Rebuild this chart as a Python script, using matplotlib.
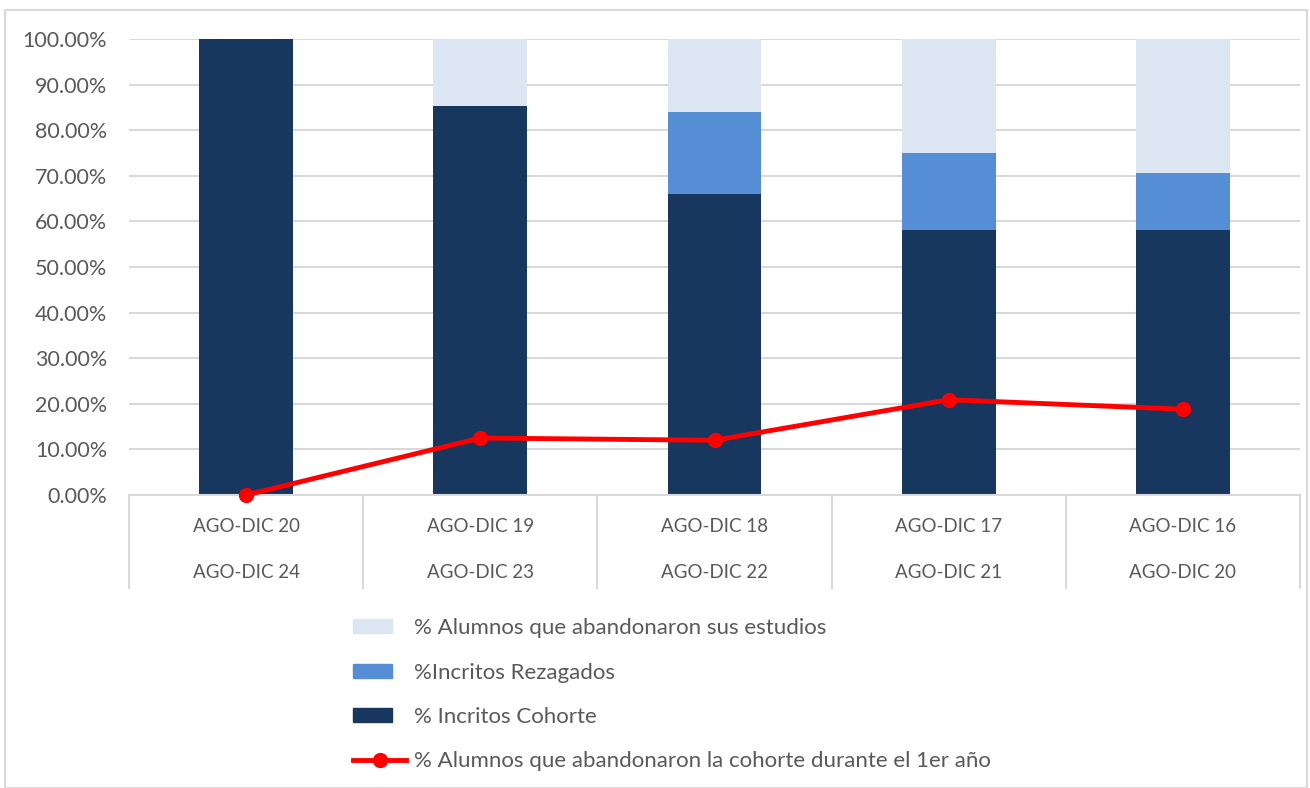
import matplotlib.pyplot as plt
from matplotlib.lines import Line2D
from matplotlib.patches import Patch, Rectangle
from matplotlib.legend_handler import HandlerPatch
import numpy as np

plt.rcParams['font.family'] = ['Lato', 'DejaVu Sans']

periodo_inicio = ['AGO-DIC 20', 'AGO-DIC 19', 'AGO-DIC 18', 'AGO-DIC 17', 'AGO-DIC 16']
periodo_fin = ['AGO-DIC 24', 'AGO-DIC 23', 'AGO-DIC 22', 'AGO-DIC 21', 'AGO-DIC 20']

cohorte = [100.0, 85.3, 66.0, 58.1, 58.1]
rezagados = [0.0, 0.0, 18.0, 16.9, 12.6]
abandono_total = [0.0, 14.7, 16.0, 25.0, 29.3]
abandono_1er_anio = [0.0, 12.5, 12.0, 20.9, 18.8]

c_cohorte = '#17375e'
c_rezag = '#558ed5'
c_aband = '#dce6f2'
c_linea = '#ff0000'
gris_txt = '#595959'
gris_lin = '#d9d9d9'

fig = plt.figure(figsize=(13.1, 7.88), dpi=100)
ax = fig.add_axes([129 / 1310, (788 - 495) / 788, (1300 - 129) / 1310, 456 / 788])

x = np.arange(len(cohorte))
w = 0.4
base2 = np.array(cohorte)
base3 = base2 + np.array(rezagados)
ax.bar(x, cohorte, w, color=c_cohorte, zorder=2)
ax.bar(x, rezagados, w, bottom=base2, color=c_rezag, zorder=2)
ax.bar(x, abandono_total, w, bottom=base3, color=c_aband, zorder=2)
ax.plot(x, abandono_1er_anio, color=c_linea, lw=3.5, marker='o', ms=10, zorder=3, clip_on=False)

ax.set_xlim(-0.5, len(cohorte) - 0.5)
ax.set_ylim(0, 100)
ax.set_yticks(np.arange(0, 101, 10))
ax.set_yticklabels([f'{v:.2f}%' for v in np.arange(0, 101, 10)])
ax.tick_params(axis='y', length=0, labelsize=15.5, labelcolor=gris_txt, pad=15.8)
ax.set_xticks([])
ax.grid(axis='y', color=gris_lin, lw=1.5, zorder=0)
for s in ['top', 'right', 'left']:
    ax.spines[s].set_visible(False)
ax.spines['bottom'].set_color(gris_lin)
ax.spines['bottom'].set_linewidth(1.5)

# etiquetas de dos niveles
for i in range(len(cohorte) + 1):
    ax.plot([i - 0.5, i - 0.5], [0, -0.204], transform=ax.get_xaxis_transform(),
            color=gris_lin, lw=1.5, clip_on=False)
for i in range(len(cohorte)):
    ax.text(i, -0.07, periodo_inicio[i], transform=ax.get_xaxis_transform(),
            ha='center', va='center', fontsize=13.5, color=gris_txt)
    ax.text(i, -0.171, periodo_fin[i], transform=ax.get_xaxis_transform(),
            ha='center', va='center', fontsize=13.5, color=gris_txt)


def rect_corto(legend, orig_handle, xdescent, ydescent, width, height, fontsize):
    return Rectangle((-xdescent, -ydescent), width * 0.72, height)


handles = [Patch(color=c_aband), Patch(color=c_rezag), Patch(color=c_cohorte),
           Line2D([0], [0], color=c_linea, lw=3.5, marker='o', ms=10)]
labels = ['% Alumnos que abandonaron sus estudios', '%Incritos Rezagados',
          '% Incritos Cohorte', '% Alumnos que abandonaron la cohorte durante el 1er año']
fig.legend(handles, labels, loc='upper left', bbox_to_anchor=(342 / 1310, 1 - 607 / 788),
           frameon=False, fontsize=16, labelcolor=gris_txt, handlelength=2.4,
           handleheight=0.6, handletextpad=0.35, labelspacing=1.1, borderpad=0,
           handler_map={Patch: HandlerPatch(patch_func=rect_corto)})

fig.patches.append(Rectangle((5 / 1310, 0), 1302 / 1310, 778 / 788, transform=fig.transFigure,
                             fill=False, edgecolor=gris_lin, lw=1.5))

fig.savefig('out.png', dpi=100)
